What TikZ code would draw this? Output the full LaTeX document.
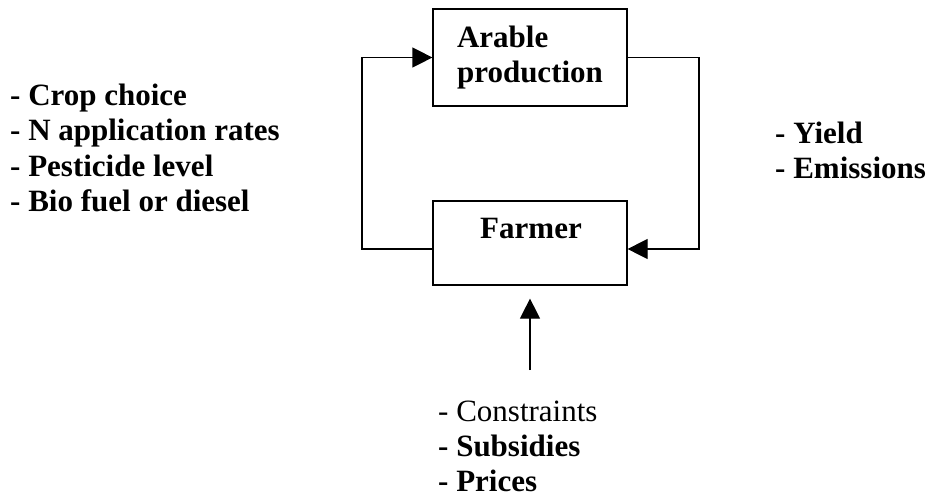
\documentclass[tikz,border=0pt]{standalone}
\usepackage{fontspec}
\setmainfont{Liberation Serif}
\usetikzlibrary{arrows.meta}
\tikzset{
  box/.style={draw, line width=1.2pt, minimum width=194pt, inner sep=0pt},
  txt/.style={inner sep=0pt, font=\fontsize{31}{35.5}\selectfont\bfseries},
  link/.style={line width=1.2pt},
  tip/.style={-{Triangle[length=20pt,width=20pt]}},
}
\begin{document}
\begin{tikzpicture}[x=1pt,y=1pt]
  \useasboundingbox (0,0) rectangle (935,-499);

  % the two boxes
  \node[box, minimum height=97pt, align=left, font=\fontsize{31}{35.5}\selectfont\bfseries]
    (arable) at (530,-57.5) {Arable\\production};
  \node[box, minimum height=84pt] (farmer) at (530,-243) {};
  \node[txt, anchor=base] (farmertxt) at (531,-238) {Farmer};

  % feedback loop
  \coordinate (lc) at (362,-57.5);
  \coordinate (rc) at (699,-57.5);
  \draw[link, tip] ([yshift=-6pt]farmer.west) -| (lc) -- (arable.west);
  \draw[link, tip] (arable.east) -- (rc) |- ([yshift=-6pt]farmer.east);

  % outside influence on the farmer
  \coordinate (ext) at (530,-370);
  \draw[link, tip, shorten >=13pt] (ext) -- (farmer.south);

  % decisions
  \node[txt, anchor=base west] (decisions) at (10,-105) {%
    \begin{tabular}[t]{@{}l@{}}
      - Crop choice\\
      - N application rates\\
      - Pesticide level\\
      - Bio fuel or diesel
    \end{tabular}};

  % outputs
  \node[txt, anchor=base west] (outputs) at (775,-143) {%
    \begin{tabular}[t]{@{}l@{}}
      - Yield\\
      - Emissions
    \end{tabular}};

  % drivers, one line each
  \node[txt, anchor=base west, font=\fontsize{31}{35.5}\selectfont\mdseries]
    (constraints) at (438,-421) {- Constraints};
  \node[txt, anchor=base west] (subsidies) at (438,-456) {- Subsidies};
  \node[txt, anchor=base west] (prices) at (438,-491) {- Prices};
\end{tikzpicture}
\end{document}
